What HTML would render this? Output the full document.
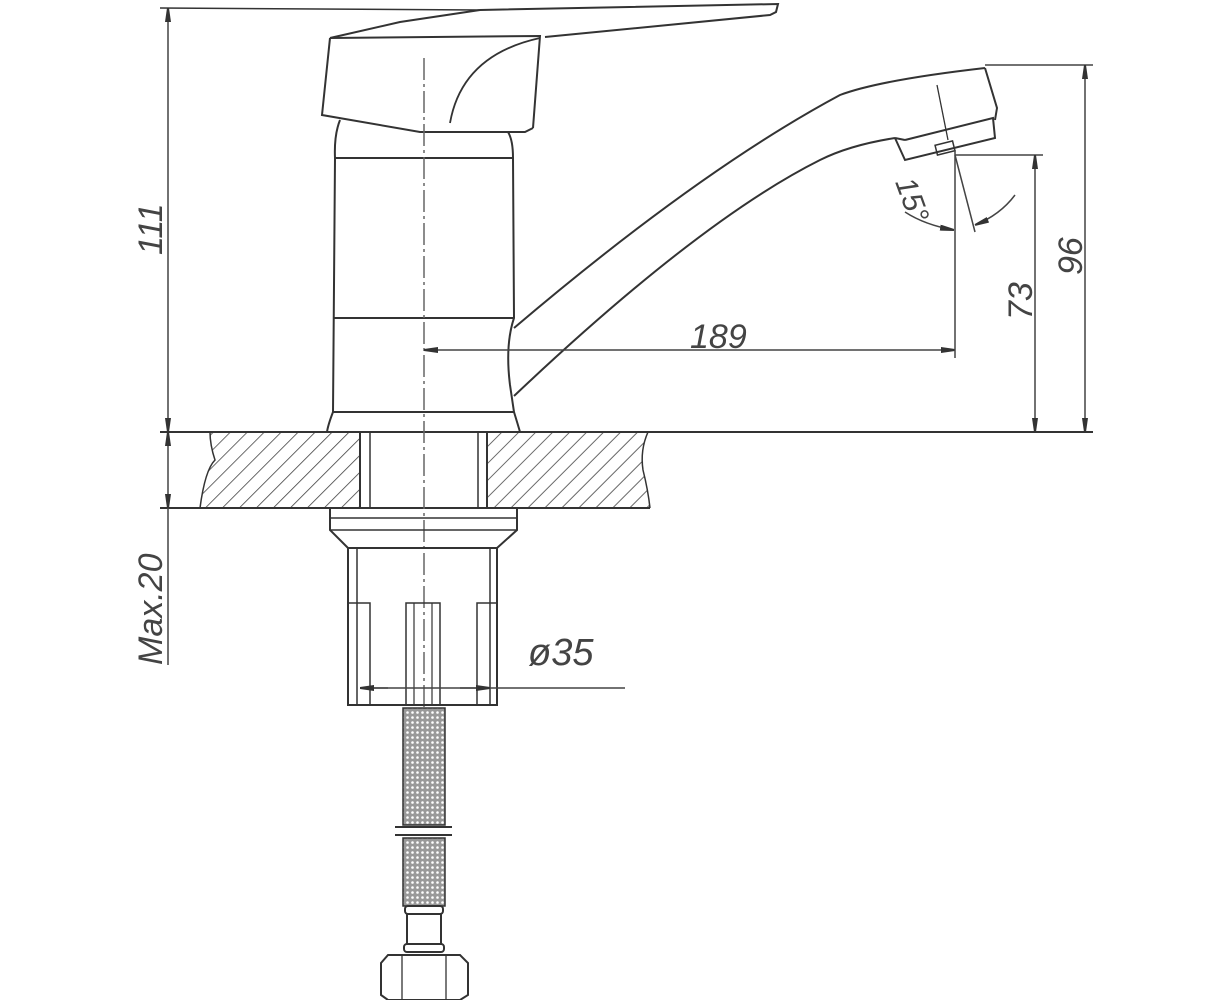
<!DOCTYPE html>
<html><head><meta charset="utf-8"><style>
html,body{margin:0;padding:0;background:#fff;}
svg{display:block}
text{font-family:"Liberation Sans",sans-serif;font-style:italic;fill:#444;}
</style></head><body>
<svg width="1223" height="1000" viewBox="0 0 1223 1000" xmlns="http://www.w3.org/2000/svg">
<defs>
<pattern id="h" width="12" height="12" patternUnits="userSpaceOnUse" patternTransform="rotate(45)">
<line x1="0" y1="0" x2="0" y2="12" stroke="#444" stroke-width="1.6"/>
</pattern>
<marker id="a" viewBox="0 0 14 6" refX="14" refY="3" markerWidth="14" markerHeight="6" orient="auto-start-reverse" markerUnits="userSpaceOnUse">
<path d="M0,0 L14,2 L14,4 L0,6z" fill="#333"/>
</marker>
<pattern id="m" width="5" height="5" patternUnits="userSpaceOnUse">
<rect width="5" height="5" fill="#999"/><circle cx="2.5" cy="2.5" r="1.3" fill="#fff"/>
</pattern>
</defs>
<g fill="none" stroke="#333" stroke-width="2">
<path d="M210,432 L360,432 L360,508 L200,508 Q205,470 215,460 Q210,445 210,432Z" fill="url(#h)" stroke="none"/>
<path d="M487,432 L648,432 Q640,450 643,470 Q648,490 650,508 L487,508Z" fill="url(#h)" stroke="none"/>
<line x1="160" y1="432" x2="1093" y2="432"/>
<line x1="160" y1="508" x2="650" y2="508"/>
<path d="M210,432 Q210,445 215,460 Q205,470 200,508" stroke-width="1.5"/>
<path d="M648,432 Q640,450 643,470 Q648,490 650,508" stroke-width="1.5"/>
<line x1="360" y1="432" x2="360" y2="508"/>
<line x1="370" y1="432" x2="370" y2="508" stroke-width="1.5"/>
<line x1="478" y1="432" x2="478" y2="508" stroke-width="1.5"/>
<line x1="487" y1="432" x2="487" y2="508"/>
<line x1="160" y1="8" x2="480" y2="10" stroke-width="1.5"/>
<path d="M480,10 L778,4 L776,12 L770,15 L545,37"/>
<path d="M330,38 L400,22 L480,10"/>
<path d="M330,38 L540,36 L533,128"/>
<path d="M330,38 L322,115 L420,132 L525,132 L533,128"/>
<path d="M450,123 Q462,55 540,38" stroke-width="1.8"/>
<path d="M340,120 Q334,135 335,158 L333,412 Q328,425 327,432"/>
<path d="M508,132 Q513,140 513,158 L514,318 Q505,345 510,385 L514,412 Q518,425 520,432"/>
<line x1="335" y1="158" x2="513" y2="158"/>
<line x1="333" y1="318" x2="514" y2="318"/>
<line x1="333" y1="412" x2="514" y2="412"/>
<path d="M514,328 Q700,170 840,95 Q880,80 985,68" />
<path d="M985,68 L997,108 L995,120"/>
<path d="M514,396 Q700,220 820,160 Q850,145 895,138" />
<path d="M895,138 L905,160 L995,138 L993,118 L905,140"/>
<path d="M905,140 L895,138"/>
<rect x="936" y="143" width="18" height="10" transform="rotate(-14 945 148)" stroke-width="1.5"/>
<line x1="937" y1="85" x2="948" y2="140" stroke-width="1.3"/>
<line x1="424" y1="58" x2="424" y2="710" stroke="#666" stroke-width="1.5" stroke-dasharray="22,4,3,4"/>
<path d="M330,508 L330,530 L348,548 L497,548 L517,530 L517,508"/>
<line x1="330" y1="518" x2="517" y2="518" stroke-width="1.5"/>
<line x1="330" y1="530" x2="517" y2="530" stroke-width="1.5"/>
<path d="M348,548 L348,705 L497,705 L497,548"/>
<line x1="357" y1="548" x2="357" y2="705" stroke-width="1.5"/>
<line x1="490" y1="548" x2="490" y2="705" stroke-width="1.5"/>
<rect x="348" y="603" width="22" height="102" stroke-width="1.5"/>
<rect x="406" y="603" width="34" height="102" stroke-width="1.5"/>
<rect x="477" y="603" width="20" height="102" stroke-width="1.5"/>
<line x1="414" y1="603" x2="414" y2="705" stroke-width="1.2"/>
<line x1="432" y1="603" x2="432" y2="705" stroke-width="1.2"/>
<rect x="403" y="708" width="42" height="117" fill="url(#m)" stroke-width="1.5"/>
<line x1="395" y1="827" x2="452" y2="827"/>
<line x1="395" y1="835" x2="452" y2="835"/>
<rect x="403" y="838" width="42" height="68" fill="url(#m)" stroke-width="1.5"/>
<rect x="405" y="906" width="38" height="8" rx="3"/>
<rect x="407" y="914" width="34" height="30"/>
<rect x="404" y="944" width="40" height="8" rx="3"/>
<path d="M388,955 L460,955 L468,963 L468,995 L460,1000 L388,1000 L381,995 L381,963Z"/>
<line x1="402" y1="955" x2="402" y2="1000" stroke-width="1.3"/>
<line x1="446" y1="955" x2="446" y2="1000" stroke-width="1.3"/>
</g>
<g fill="none" stroke="#444" stroke-width="1.5">
<line x1="168" y1="8" x2="168" y2="432" marker-start="url(#a)" marker-end="url(#a)"/>
<line x1="168" y1="432" x2="168" y2="508" marker-start="url(#a)" marker-end="url(#a)"/>
<line x1="168" y1="508" x2="168" y2="665"/>
<line x1="424" y1="350" x2="955" y2="350" marker-start="url(#a)" marker-end="url(#a)"/>
<line x1="955" y1="150" x2="955" y2="358"/>
<line x1="955" y1="155" x2="1043" y2="155"/>
<line x1="1035" y1="155" x2="1035" y2="432" marker-start="url(#a)" marker-end="url(#a)"/>
<line x1="985" y1="65" x2="1093" y2="65"/>
<line x1="1085" y1="65" x2="1085" y2="432" marker-start="url(#a)" marker-end="url(#a)"/>
<line x1="955" y1="155" x2="975" y2="232"/>
<path d="M905,212 Q925,225 954,230" marker-end="url(#a)"/>
<path d="M1015,195 Q1000,215 975,225" marker-end="url(#a)"/>
<line x1="360" y1="688" x2="625" y2="688"/>
<line x1="360" y1="688" x2="388" y2="688" marker-start="url(#a)"/>
<line x1="460" y1="688" x2="490" y2="688" marker-end="url(#a)"/>
</g>
<text x="0" y="0" font-size="34" transform="translate(162,255) rotate(-90)">111</text>
<text x="0" y="0" font-size="34" transform="translate(162,665) rotate(-90)">Max.20</text>
<text x="690" y="348" font-size="34">189</text>
<text x="0" y="0" font-size="34" transform="translate(1032,320) rotate(-90)">73</text>
<text x="0" y="0" font-size="34" transform="translate(1082,275) rotate(-90)">96</text>
<text x="0" y="0" font-size="30" transform="translate(895,182) rotate(70)">15°</text>
<text x="528" y="665" font-size="38">ø35</text>
</svg>
</body></html>
